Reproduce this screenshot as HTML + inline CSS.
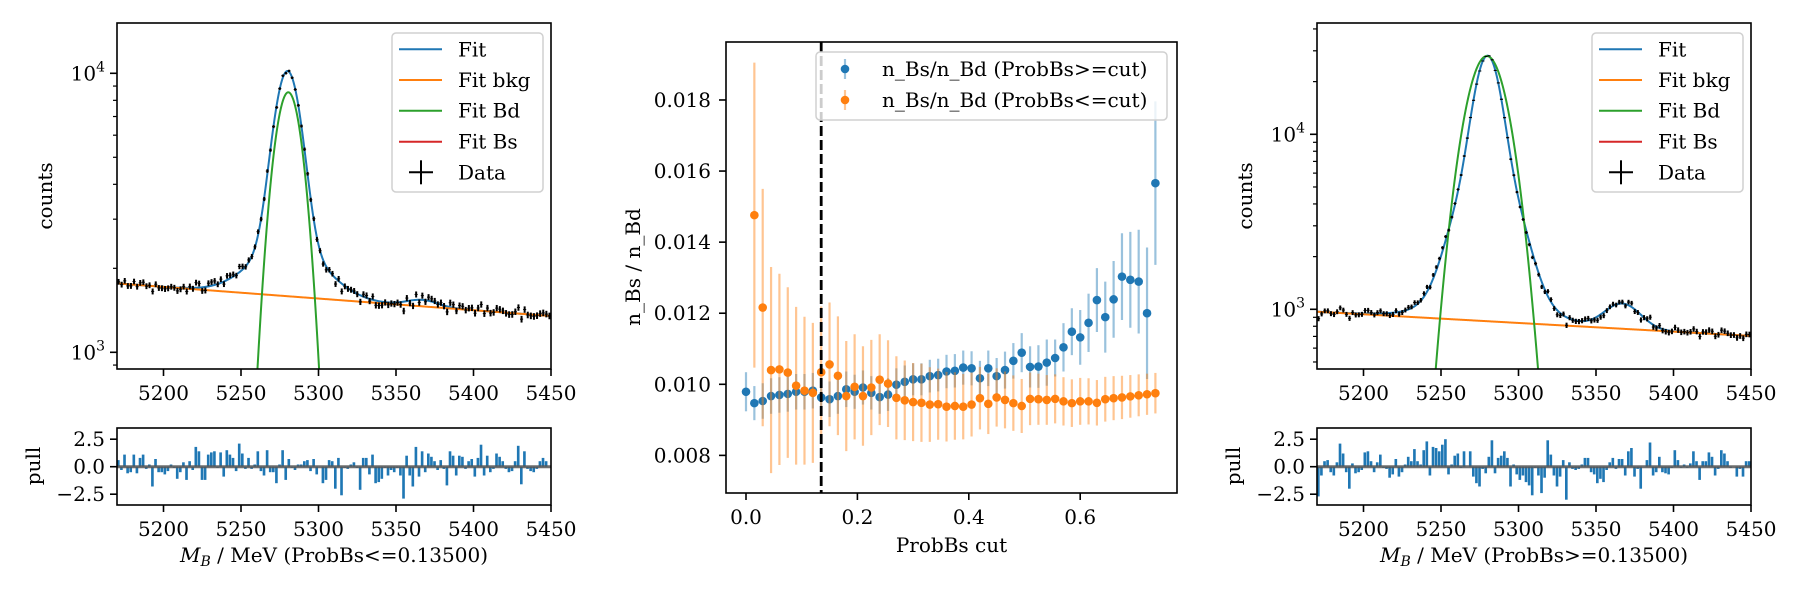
<!DOCTYPE html>
<html><head><meta charset="utf-8"><title>Bs/Bd fit</title>
<style>
html,body{margin:0;padding:0;background:#fff;width:1800px;height:600px;overflow:hidden;}
svg{display:block;font-family:"DejaVu Serif","Liberation Serif",serif;}
</style></head>
<body>
<svg id="fig" width="1800" height="600" viewBox="0 0 1800 600" xmlns="http://www.w3.org/2000/svg">
<defs>
<clipPath id="clipL"><rect x="117" y="23" width="434" height="346"/></clipPath>
<clipPath id="clipR"><rect x="1317" y="23" width="434" height="346"/></clipPath>
<clipPath id="clipM"><rect x="726" y="42" width="451" height="451"/></clipPath>
</defs>
<rect x="0" y="0" width="1800" height="600" fill="#fff"/>
</svg>
<script>
// ---- Middle chart data ----
const cutValues = [0,0.015,0.03,0.045,0.06,0.075,0.09,0.105,0.12,0.135,0.15,0.165,0.18,0.195,0.21,0.225,0.24,0.255,0.27,0.285,0.3,0.315,0.33,0.345,0.36,0.375,0.39,0.405,0.42,0.435,0.45,0.465,0.48,0.495,0.51,0.525,0.54,0.555,0.57,0.585,0.6,0.615,0.63,0.645,0.66,0.675,0.69,0.705,0.72,0.735];
const ratioHigh = [0.00979,0.00947,0.00953,0.00967,0.00970,0.00973,0.00979,0.00979,0.00982,0.00963,0.00958,0.00967,0.00986,0.00979,0.00991,0.00976,0.00964,0.00971,0.00999,0.01007,0.01014,0.01014,0.01023,0.01026,0.01036,0.01038,0.01047,0.01045,0.01017,0.01045,0.01023,0.01040,0.01066,0.01089,0.01049,0.01050,0.01061,0.01074,0.01104,0.01148,0.01132,0.01173,0.01237,0.01189,0.01239,0.01303,0.01294,0.01289,0.01200,0.01566];
const ratioHighErr = [0.00055,0.00048,0.0005,0.0005,0.0005,0.0005,0.0005,0.0005,0.0005,0.0005,0.0005,0.0005,0.0005,0.00048,0.00048,0.00047,0.00047,0.00046,0.00046,0.00046,0.00045,0.00045,0.00046,0.00046,0.00047,0.00047,0.00048,0.00048,0.00049,0.0005,0.00051,0.00052,0.0005,0.00055,0.00058,0.0006,0.00065,0.00052,0.00068,0.00066,0.00077,0.00082,0.0009,0.001,0.00108,0.00122,0.00135,0.00146,0.00185,0.0023];
const ratioLow = [null,0.01476,0.01216,0.01040,0.01042,0.01033,0.00996,0.00982,0.00976,0.01034,0.01056,0.01024,0.00967,0.00993,0.00967,0.00991,0.01013,0.01002,0.00962,0.00955,0.00950,0.00948,0.00943,0.00944,0.00937,0.00939,0.00937,0.00943,0.00961,0.00945,0.00963,0.00956,0.00947,0.00939,0.00959,0.00958,0.00956,0.00959,0.00952,0.00947,0.00952,0.00952,0.00948,0.00958,0.00961,0.00963,0.00966,0.00969,0.00972,0.00975];
const ratioLowErr = [0,0.00429,0.00334,0.0029,0.00269,0.0024,0.00222,0.00208,0.00197,0.00185,0.00174,0.00167,0.00155,0.00148,0.0014,0.00134,0.00128,0.00122,0.00117,0.00112,0.0011,0.0011,0.00105,0.001,0.00098,0.00095,0.00092,0.0009,0.00088,0.00085,0.00082,0.0008,0.00078,0.00076,0.00074,0.00072,0.0007,0.00069,0.00068,0.00067,0.00066,0.00065,0.00064,0.00063,0.00062,0.00061,0.0006,0.00059,0.00058,0.00057];
const chosenCut = 0.135;
const midXTicks = [0.0,0.2,0.4,0.6];
const midXTickLabels = ["0.0","0.2","0.4","0.6"];
const midYTicks = [0.008,0.010,0.012,0.014,0.016,0.018];
const midYTickLabels = ["0.008","0.010","0.012","0.014","0.016","0.018"];

// ---- Fit panels data ----
const pullLow = [0.6,-0.3,1.1,-0.6,-0.5,1.1,-0.6,0.8,1.1,-0.2,0.2,-1.8,0.7,-0.5,-0.5,-0.7,-0.4,0.2,-0.1,-1.1,-0.5,0.4,-1.2,0.5,-0.3,1.8,1.4,-1.2,-1.2,1.1,1.3,1.4,-0.1,1.3,-0.9,1.5,1.1,0.8,-0.4,2.1,1.2,-0.2,0.8,-0.2,0.2,1.4,-0.4,-0.8,1.5,-0.5,-0.5,-1.5,0.2,1.5,-1.2,0.7,-0.1,-0.3,0.2,0.2,0.5,0.6,-0.4,0.7,-0.7,0,-1.5,-1.2,0.6,0.5,-2.0,0.8,-2.6,-0.1,-0.2,0.2,0.4,-0.1,-2.1,0.8,0.8,-0.7,1.1,-1.5,-1.4,-1.1,-0.1,-0.8,-0.3,-0.5,-0.1,-0.8,-2.9,1.0,-0.8,-1.8,1.8,-0.9,1.4,-0.5,1.2,0.9,0.5,-0.3,0.6,-0.2,-1.7,1.4,1.0,-0.8,1.0,0.9,-0.2,0.5,0.7,-0.9,0.8,2.0,-0.8,1.0,-0.5,-0.2,1.2,0.9,0.5,-0.2,-0.5,-0.4,0.5,1.9,-1.6,1.4,-0.2,-0.4,-0.5,-0.2,0.5,0.8,0.5,0];
const pullHigh = [-2.7,-0.8,0.5,0.6,-0.5,-0.8,0.4,2.1,1.2,-0.5,-2.0,0.3,-0.6,-0.5,-0.3,1.3,1.4,0.5,-0.5,0.4,1.1,-0.1,-0.2,-1.0,-0.7,0.7,-0.9,-0.5,0.2,0.9,0.5,1.6,0.5,0.2,1.5,2.3,-0.8,1.8,1.7,1.4,2.0,2.5,-0.7,0.2,1.0,1.2,-0.1,1.4,0,1.4,-0.9,-1.5,-1.8,-0.2,-0.6,0.9,2.4,-0.6,0.8,1.0,1.4,0.8,-1.8,0.2,-0.7,-1.2,-0.8,-1.4,-1.7,-2.6,-0.1,-0.8,-2.4,-1.0,2.4,1.1,-0.8,-1.8,-0.9,0.6,-3.0,0.4,-0.2,-0.3,-0.2,0.2,0.8,0.8,-0.5,-0.7,-1.5,-1.1,-1.4,-0.3,0.4,0.8,-0.2,0.7,0.7,-0.8,1.4,1.7,-0.9,-0.2,-2.0,0,0.6,2.2,-0.8,-0.5,0.9,-0.5,-0.6,-0.7,-0.1,1.5,0.6,-0.1,0.2,-0.1,0.3,1.4,0.5,-1.2,0.5,0.5,1.3,0.9,-0.8,-0.2,1.5,1.2,0.5,-0.1,0,-0.9,-0.2,-0.9,0.5,0.5];
const massTicks = [5200,5250,5300,5350,5400,5450];
const pullTicks = [2.5,0.0,-2.5];
const pullTickLabels = ["2.5","0.0","\u22122.5"];
// fit parameters: background [amp, slope], peaks [amp, mean, sigma], Bd curve [amp, mean, sigma]
const bkgLow = [1766, 0.000962];
const peaksLow = [[7800,5280,8],[800,5280,22],[80,5367,10]];
const bdLow = [8550,5280.5,9.3];
const bkgHigh = [969, 0.00114];
const peaksHigh = [[20000,5280,7],[7000,5280,15],[300,5280,30],[300,5367,11]];
const bdHigh = [28000,5279.6,11.5];

const NS = 'http://www.w3.org/2000/svg';
const svg = document.getElementById('fig');
function mk(tag, attrs, parent){
  const e = document.createElementNS(NS, tag);
  for (const k in attrs) e.setAttribute(k, attrs[k]);
  (parent || svg).appendChild(e);
  return e;
}
function txt(x, y, s, size, anchor, parent){
  const t = mk('text', {x:x, y:y, 'font-size':size, 'text-anchor':anchor, fill:'#000'}, parent);
  t.textContent = s;
  return t;
}

function drawFitPanel(off, yAxis, bkg, peaks, bd, pulls, clipId, suffix, key){
  const x0 = 117 + off, x1 = 551 + off, top = 23, bot = 369, pTop = 428, pBot = 505;
  const xm = m => x0 + (m - 5170) / 280 * (x1 - x0);
  const ly = v => yAxis.y4 - (Math.log10(v) - 4) * yAxis.dec;
  const py = p => 466.7 - p * 11;
  const bkgF = m => bkg[0] * Math.exp(-bkg[1] * (m - 5170));
  const gaus = (g, m) => g[0] * Math.exp(-Math.pow(m - g[1], 2) / (2 * g[2] * g[2]));
  const total = m => bkgF(m) + peaks.reduce((s, g) => s + gaus(g, m), 0);
  const floorV = yAxis.lo * 0.9;

  const g = mk('g', {});
  
  
  const plot = mk('g', {'clip-path': 'url(#' + clipId + ')'}, g);

  function curve(f, color, name){
    let d = '';
    for (let m = 5170; m <= 5450.01; m += 0.5) d += (d ? 'L' : 'M') + xm(m).toFixed(2) + ',' + ly(Math.max(f(m), floorV)).toFixed(2);
    const p = mk('path', {d: d, fill: 'none', stroke: color, 'stroke-width': 2}, plot);
    
    
  }
  curve(total, '#1f77b4', 'fit-curve');
  curve(bkgF, '#ff7f0e', 'fit-bkg-curve');
  curve(m => gaus(bd, m), '#2ca02c', 'fit-bd-curve');

  const n = pulls.length, bw = 280 / n;
  for (let i = 0; i < n; i++) {
    const m = 5170 + (i + 0.5) * bw;
    const mod = total(m);
    const val = mod + pulls[i] * Math.sqrt(mod);
    const e = Math.sqrt(val);
    const ln = mk('line', {x1: xm(m), x2: xm(m), y1: ly(val + e), y2: ly(val - e), stroke: '#000', 'stroke-width': 2}, plot);
    
    
    const hl = mk('line', {x1: xm(m - bw / 2), x2: xm(m + bw / 2), y1: ly(val), y2: ly(val), stroke: '#000', 'stroke-width': 1}, plot);
    
    
  }

  const lo = yAxis.lo, hi = yAxis.hi;
  for (let d = 2; d <= 4; d++) {
    for (let k = 1; k <= 9; k++) {
      const v = k * Math.pow(10, d);
      if (v < lo || v > hi) continue;
      const y = ly(v);
      const major = k === 1;
      const t = mk('line', {x1: x0 - (major ? 7 : 4), x2: x0, y1: y, y2: y, stroke: '#000', 'stroke-width': major ? 1.6 : 1.2}, g);
      
      
      if (major) {
        const lab = mk('text', {x: x0 - 12, y: y + 7, 'font-size': 20, 'text-anchor': 'end'}, g);
        
        
        const a = mk('tspan', {}, lab); a.textContent = '10';
        const b = mk('tspan', {'font-size': 14, dy: -9}, lab); b.textContent = String(d);
      }
    }
  }
  const yl = txt(0, 0, 'counts', 20, 'middle', g);
  yl.setAttribute('transform', 'translate(' + (off + 52) + ',196) rotate(-90)');
  
  

  massTicks.forEach(v => {
    const x = xm(v);
    [bot, pBot].forEach((yb, j) => {
      const t = mk('line', {x1: x, x2: x, y1: yb, y2: yb + 7, stroke: '#000', 'stroke-width': 1.6}, g);
      
      
      const l = txt(x, yb + 31, String(v), 20, 'middle', g);
      
      
    });
  });

  const lg = mk('g', {}, g);
  
  
  const lb = mk('rect', {x: off + 392, y: 33, width: 151, height: 159, rx: 4, fill: '#fff', 'fill-opacity': 0.8, stroke: '#d0d0d0', 'stroke-width': 1.5}, lg);
  
  
  const entries = [['Fit', '#1f77b4'], ['Fit bkg', '#ff7f0e'], ['Fit Bd', '#2ca02c'], ['Fit Bs', '#d62728'], ['Data', null]];
  const rows = [49.3, 80, 110.7, 141.7, 172.3];
  entries.forEach((en, i) => {
    const y = rows[i];
    if (en[1]) {
      const l = mk('line', {x1: off + 399, x2: off + 442, y1: y, y2: y, stroke: en[1], 'stroke-width': 2}, lg);
      
      
    } else {
      const a = mk('line', {x1: off + 409, x2: off + 433, y1: y, y2: y, stroke: '#000', 'stroke-width': 2}, lg);
      
      
      const b = mk('line', {x1: off + 421, x2: off + 421, y1: y - 12, y2: y + 12, stroke: '#000', 'stroke-width': 2}, lg);
      
      
    }
    const t = txt(off + 458, y + 7, en[0], 20, 'start', lg);
    
    
  });

  const fr = mk('rect', {x: x0, y: top, width: x1 - x0, height: bot - top, fill: 'none', stroke: '#000', 'stroke-width': 1.6}, g);
  
  

  const pg = mk('g', {}, g);
  
  
  for (let i = 0; i < n; i++) {
    const xa = xm(5170 + i * bw), xb = xm(5170 + (i + 1) * bw);
    const y0 = py(0), y1 = py(pulls[i]);
    const r = mk('rect', {x: xa, y: Math.min(y0, y1), width: (xb - xa) * 0.85, height: Math.abs(y1 - y0), fill: '#1f77b4'}, pg);
    
    
  }
  const zl = mk('line', {x1: x0, x2: x1, y1: py(0), y2: py(0), stroke: '#555', 'stroke-width': 3, 'stroke-opacity': 0.85}, pg);
  
  
  pullTicks.forEach((v, i) => {
    const y = py(v);
    const t = mk('line', {x1: x0 - 7, x2: x0, y1: y, y2: y, stroke: '#000', 'stroke-width': 1.6}, pg);
    
    
    const l = txt(x0 - 12, y + 7, pullTickLabels[i], 20, 'end', pg);
    
    
  });
  const pf = mk('rect', {x: x0, y: pTop, width: x1 - x0, height: pBot - pTop, fill: 'none', stroke: '#000', 'stroke-width': 1.6}, pg);
  
  
  const pl = txt(0, 0, 'pull', 20, 'middle', pg);
  pl.setAttribute('transform', 'translate(' + (off + 40) + ',466) rotate(-90)');
  
  

  const xl = mk('text', {x: (x0 + x1) / 2, y: 562, 'font-size': 20, 'text-anchor': 'middle'}, g);
  
  
  const s1 = mk('tspan', {'font-style': 'italic'}, xl); s1.textContent = 'M';
  const s2 = mk('tspan', {'font-style': 'italic', 'font-size': 14, dy: 4}, xl); s2.textContent = 'B';
  const s3 = mk('tspan', {dy: -4}, xl); s3.textContent = ' / MeV (' + suffix + ')';
}

drawFitPanel(0, {y4: 73.3, dec: 279, lo: 871, hi: 15140}, bkgLow, peaksLow, bdLow, pullLow, 'clipL', 'ProbBs<=0.13500', 'low');
drawFitPanel(1200, {y4: 134.3, dec: 175, lo: 456, hi: 43250}, bkgHigh, peaksHigh, bdHigh, pullHigh, 'clipR', 'ProbBs>=0.13500', 'high');

(function(){
  const mx = v => 746 + v * 557;
  const my = v => 384.3 - (v - 0.010) * 35540;
  const g = mk('g', {});
  
  
  const plot = mk('g', {'clip-path': 'url(#clipM)'}, g);
  function series(vals, errs, color, name){
    const sg = mk('g', {}, plot);
    
    
    vals.forEach((v, i) => {
      if (v === null) return;
      const x = mx(cutValues[i]);
      const e = mk('line', {x1: x, x2: x, y1: my(v + errs[i]), y2: my(v - errs[i]), stroke: color, 'stroke-opacity': 0.45, 'stroke-width': 2.2}, sg);
      
      
    });
    vals.forEach((v, i) => {
      if (v === null) return;
      const c = mk('circle', {cx: mx(cutValues[i]), cy: my(v), r: 4.3, fill: color}, sg);
      
      
    });
  }
  series(ratioHigh, ratioHighErr, '#1f77b4', 'series-probbs-ge-cut');
  series(ratioLow, ratioLowErr, '#ff7f0e', 'series-probbs-le-cut');
  const cl = mk('line', {x1: mx(chosenCut), x2: mx(chosenCut), y1: 42, y2: 493, stroke: '#000', 'stroke-width': 2.8, 'stroke-dasharray': '10,4'}, g);
  
  

  midXTicks.forEach((v, i) => {
    const x = mx(v);
    const t = mk('line', {x1: x, x2: x, y1: 493, y2: 500, stroke: '#000', 'stroke-width': 1.6}, g);
    
    
    const l = txt(x, 524, midXTickLabels[i], 20, 'middle', g);
    
    
  });
  midYTicks.forEach((v, i) => {
    const y = my(v);
    const t = mk('line', {x1: 719, x2: 726, y1: y, y2: y, stroke: '#000', 'stroke-width': 1.6}, g);
    
    
    const l = txt(711, y + 7, midYTickLabels[i], 20, 'end', g);
    
    
  });
  const xt = txt(951.5, 552, 'ProbBs cut', 20, 'middle', g);
  
  
  const yt = txt(0, 0, 'n_Bs / n_Bd', 20, 'middle', g);
  yt.setAttribute('transform', 'translate(640,267) rotate(-90)');
  
  

  const lg = mk('g', {}, g);
  
  
  const lb = mk('rect', {x: 816, y: 52, width: 351, height: 68, rx: 4, fill: '#fff', 'fill-opacity': 0.8, stroke: '#d0d0d0', 'stroke-width': 1.5}, lg);
  
  
  [['n_Bs/n_Bd (ProbBs>=cut)', '#1f77b4', 69], ['n_Bs/n_Bd (ProbBs<=cut)', '#ff7f0e', 100]].forEach(en => {
    const e = mk('line', {x1: 845, x2: 845, y1: en[2] - 10, y2: en[2] + 10, stroke: en[1], 'stroke-opacity': 0.45, 'stroke-width': 2.2}, lg);
    
    
    const c = mk('circle', {cx: 845, cy: en[2], r: 4.3, fill: en[1]}, lg);
    
    
    const t = txt(882, en[2] + 7, en[0], 20, 'start', lg);
    
    
  });

  const fr = mk('rect', {x: 726, y: 42, width: 451, height: 451, fill: 'none', stroke: '#000', 'stroke-width': 1.6}, g);
  
  
})();
</script>
</body></html>
